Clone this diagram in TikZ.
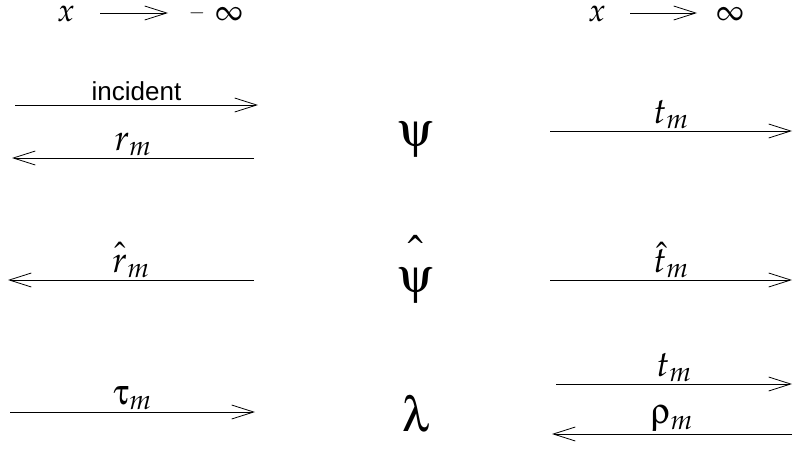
\documentclass[tikz,border=0pt]{standalone}
\usepackage{mathpazo}
\usepackage[Symbol]{upgreek}
\usepackage[no-math]{fontspec}
\newfontfamily\incfont{Liberation Sans}
\usetikzlibrary{arrows.meta}
\begin{document}
\begin{tikzpicture}[x=1pt,y=-1pt,
  hd/.style={font=\fontsize{32}{36}\selectfont, inner sep=0pt},
  lab/.style={font=\fontsize{36}{40}\selectfont, inner sep=0.5pt},
  big/.style={font=\fontsize{49}{54}\selectfont, inner sep=0pt},
  arr/.style={-{Straight Barb[length=22pt,width=14pt,line width=0.8pt]}, line width=0.8pt},
  lbl/.style={lab, midway, above=1pt}]
\useasboundingbox (0,0) rectangle (795,463);
% top headings
\node[hd, anchor=base] (xl) at (66,21) {$x$};
\coordinate (xla) at (100,13);
\coordinate (xlb) at (168,13);
\draw[arr] (xla) -- (xlb);
\node[hd, anchor=base, font=\fontsize{20}{24}\selectfont] (mn) at (197,19) {$-$};
\node[hd, anchor=base] (minf) at (229,23) {$\infty$};
\node[hd, anchor=base] (xr) at (597,21) {$x$};
\coordinate (xra) at (630,13);
\coordinate (xrb) at (697,13);
\draw[arr] (xra) -- (xrb);
\node[hd, anchor=base] (pinf) at (730,23) {$\infty$};
% row 1
\coordinate (i1) at (15,105);  \coordinate (i2) at (258,105);
\draw[arr] (i1) -- node[midway, above=3pt, inner sep=1pt, font=\incfont\fontsize{26}{28}\selectfont] (inc) {incident} (i2);
\coordinate (r1) at (254,158); \coordinate (r2) at (12,158);
\draw[arr] (r1) -- node[lbl] (rm) {$r_m$} (r2);
\node[big] (psi) at (416,140) {$\uppsi$};
\coordinate (t1) at (550,131); \coordinate (t2) at (792,131);
\draw[arr] (t1) -- node[lbl] (tm) {$t_m$} (t2);
% row 2
\coordinate (rh1) at (254,280); \coordinate (rh2) at (8,280);
\draw[arr] (rh1) -- node[lbl] (rhm) {$\hat{\vphantom{t}\smash{r}}_m$} (rh2);
\node[big] (psih) at (416,264) {$\hat{\vphantom{\rule{0pt}{0.95em}}\smash{\uppsi}}$};
\coordinate (th1) at (550,280); \coordinate (th2) at (792,280);
\draw[arr] (th1) -- node[lbl] (thm) {$\hat t_m$} (th2);
% row 3
\coordinate (ta1) at (10,412); \coordinate (ta2) at (255,412);
\draw[arr] (ta1) -- node[lbl] (taum) {$\uptau_m$} (ta2);
\node[big] (lam) at (416,414) {$\uplambda$};
\coordinate (tt1) at (556,384); \coordinate (tt2) at (792,384);
\draw[arr] (tt1) -- node[lbl] (ttm) {$t_m$} (tt2);
\coordinate (rho1) at (792,434); \coordinate (rho2) at (552,434);
\draw[arr] (rho1) -- node[lbl] (rhom) {$\uprho_m$} (rho2);
\end{tikzpicture}
\end{document}
